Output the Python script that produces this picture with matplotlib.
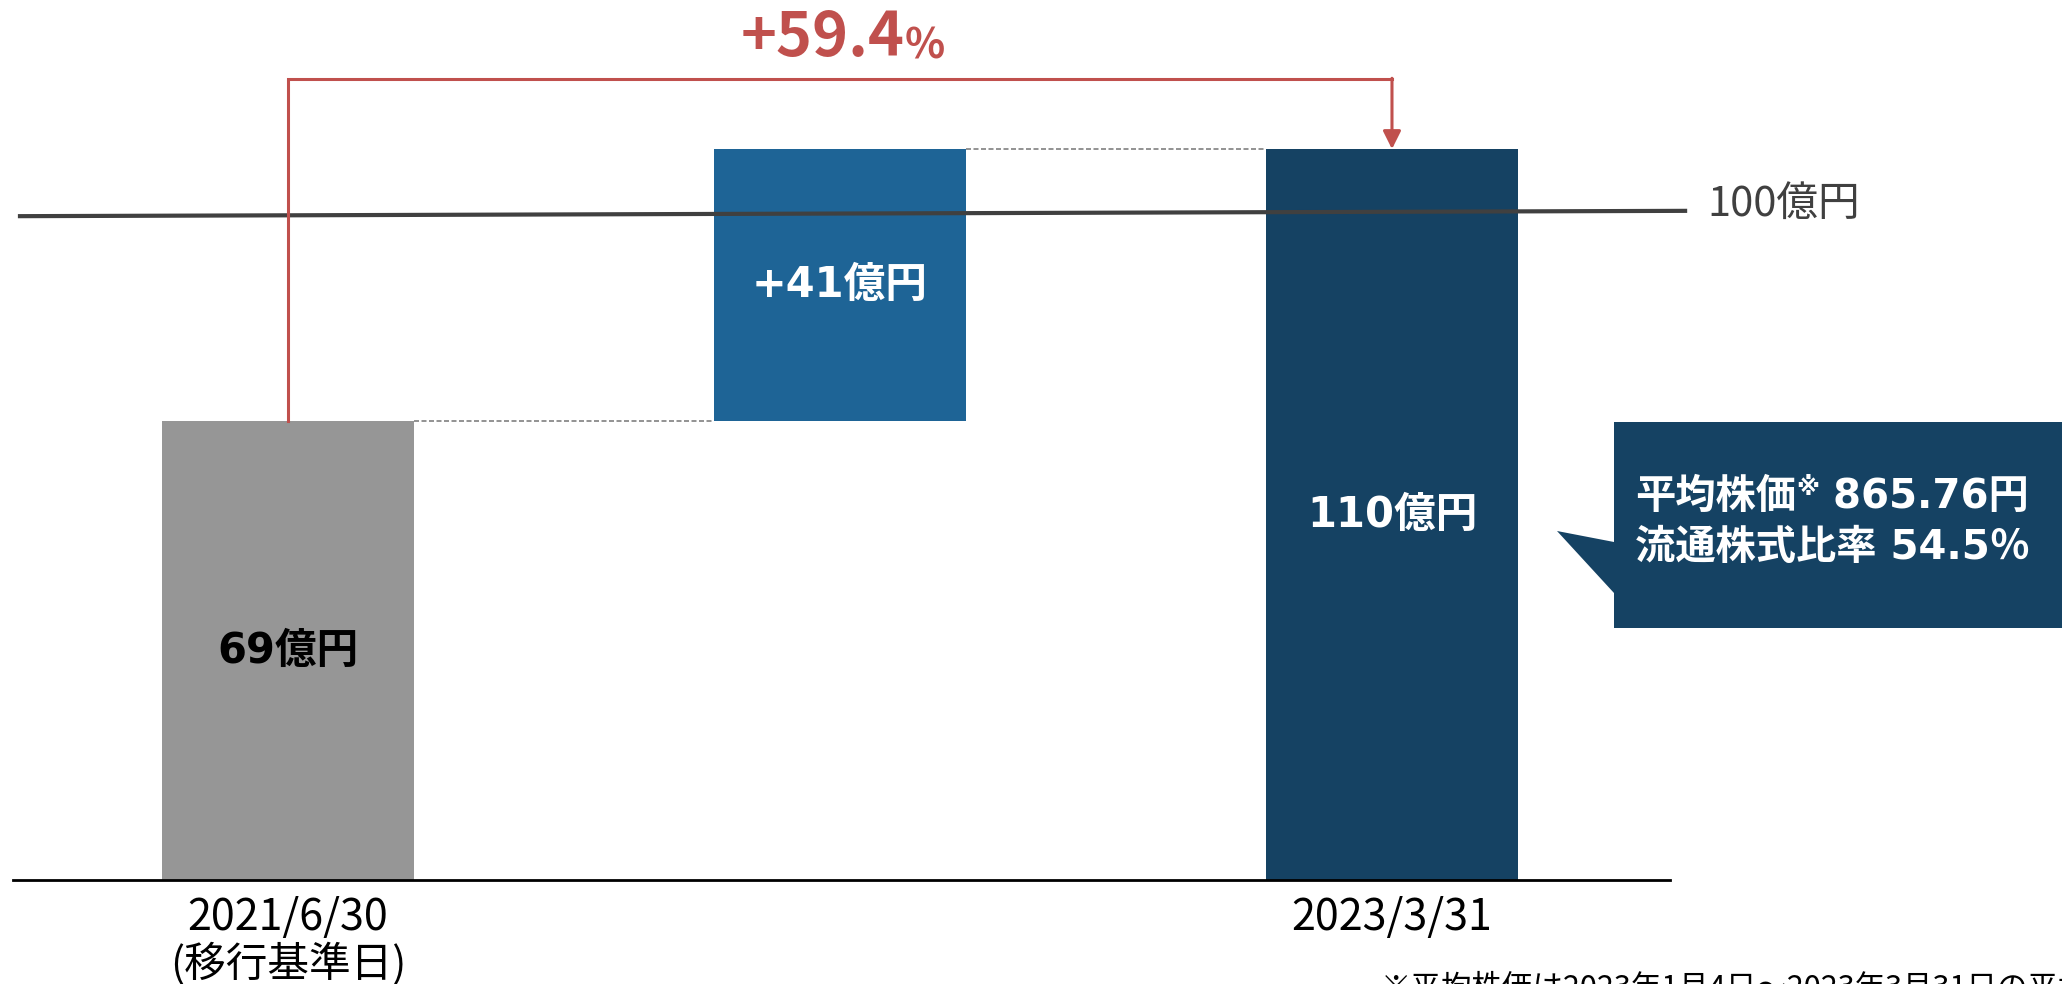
import matplotlib
matplotlib.use('Agg')
import matplotlib.pyplot as plt
from matplotlib.patches import Polygon

plt.rcParams['font.family'] = ['Noto Sans CJK JP', 'DejaVu Sans']
# wide Verdana-like digits, CJK falls back to Noto
wide = ['DejaVu Sans', 'Noto Sans CJK JP']

# Data
dates = ['2021/6/30', '2023/3/31']
date_note = '(移行基準日)'
start_value = 69
increase = 41
end_value = 110
bar_labels = ['69億円', '+41億円', '110億円']
reference_value = 100
reference_label = '100億円'
growth_label = '+59.4'
callout_price = ['平均株価', '※', ' 865.76円']
callout_ratio = '流通株式比率 54.5％'
footnote = '※平均株価は2023年1月4日～2023年3月31日の平均値'

# Colors
gray = '#969696'
blue = '#1e6496'
navy = '#154263'
red = '#c0504d'

W, H = 2062, 984
fig = plt.figure(figsize=(W / 100, H / 100), dpi=100)
ax = fig.add_axes([0, 104 / H, 1, 880 / H])
ax.set_xlim(-0.5217, 3.2138)
ax.set_ylim(0, 132.43)
ax.axis('off')

# Waterfall bars
x = [0, 1, 2]
heights = [start_value, increase, end_value]
bottoms = [0, start_value, 0]
width = 0.4565
ax.bar(x, heights, width, bottom=bottoms, color=[gray, blue, navy], zorder=2)

# Bar labels
label_colors = ['black', 'white', 'white']
for xi, h, b, lab, c in zip(x, heights, bottoms, bar_labels, label_colors):
    ax.text(xi, b + h / 2, lab, ha='center', va='center', fontsize=30,
            fontweight='bold', color=c, family=wide, zorder=4)

# Baseline
ax.plot([-0.498, 2.504], [0, 0], color='black', lw=2, clip_on=False, zorder=3)

# Dashed connectors
ax.plot([x[0] + width / 2, x[1] - width / 2], [start_value, start_value],
        color='#808080', lw=1.2, ls=(0, (3, 1.5)), zorder=1)
ax.plot([x[1] + width / 2, x[2] - width / 2], [end_value, end_value],
        color='#808080', lw=1.2, ls=(0, (3, 1.5)), zorder=1)

# 100億円 reference line
ax.plot([-0.4855, 2.531], [reference_value - 0.1, reference_value + 0.7],
        color='#404040', lw=3, zorder=3)
ax.text(2.572, reference_value + 1.6, reference_label, ha='left', va='center',
        fontsize=30, color='#404040')

# Growth bracket
top = 120.5
ax.plot([x[0], x[0], x[2]], [start_value, top, top], color=red, lw=2.2,
        solid_joinstyle='miter', zorder=3)
ax.annotate('', xy=(x[2], end_value), xytext=(x[2], top + 0.15),
            arrowprops=dict(arrowstyle='-|>,head_length=0.4,head_width=0.2',
                            color=red, lw=2.2, mutation_scale=27,
                            shrinkA=0, shrinkB=0))
ax.text(1.1178, 126.7, growth_label, ha='right', va='center', fontsize=44,
        fontweight='bold', color=red)
ax.text(1.1178, 125.4, '%', ha='left', va='center', fontsize=30,
        fontweight='bold', color=red)

# Date labels
for xi, d in zip([x[0], x[2]], dates):
    ax.text(xi, -5.7, d, ha='center', va='center', fontsize=31, clip_on=False)
ax.text(x[0], -12.7, date_note, ha='center', va='center', fontsize=30,
        clip_on=False)

# Callout box
def fx(px):
    return px / W

def fy(py):
    return 1 - py / H

box = Polygon([(fx(1614), fy(422)), (fx(2070), fy(422)), (fx(2070), fy(628)),
               (fx(1614), fy(628)), (fx(1614), fy(593)), (fx(1557), fy(531)),
               (fx(1614), fy(542))], closed=True, transform=fig.transFigure,
              facecolor=navy, edgecolor='none')
fig.patches.append(box)

renderer = fig.canvas.get_renderer()
cx = 1635
sizes = [29, 17, 29]
offsets = [0, -9, 0]
for piece, s, dy in zip(callout_price, sizes, offsets):
    t = fig.text(fx(cx), fy(497 + dy), piece, ha='left', va='center',
                 fontsize=s, fontweight='bold', color='white', family=wide)
    bb = t.get_window_extent(renderer=renderer)
    cx = bb.x1
fig.text(fx(1635), fy(548), callout_ratio, ha='left', va='center', fontsize=29,
         fontweight='bold', color='white', family=wide)

# Footnote (cut off at the edge like the original)
fig.text(fx(1381), fy(988), footnote, ha='left', va='center', fontsize=22,
         color='black')

fig.savefig('out.png', dpi=100)
